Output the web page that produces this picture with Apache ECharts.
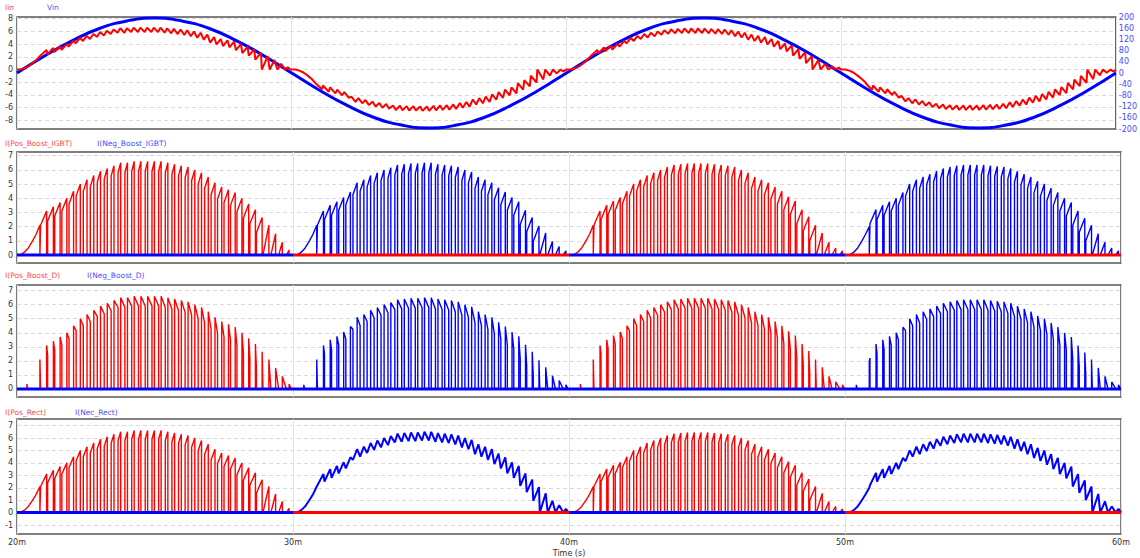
<!DOCTYPE html>
<html>
<head>
<meta charset="utf-8">
<script src="https://cdn.jsdelivr.net/npm/echarts@6/dist/echarts.min.js"></script>
<style>
  html, body { margin: 0; padding: 0; background: #fff; }
  #chart { width: 1140px; height: 558px; }
</style>
</head>
<body>
<div id="chart"></div>
<script>
// time is in ms everywhere, currents in A, voltage in V

var timeTicks = [20, 30, 40, 50, 60];
var iinTicks = [-8, -6, -4, -2, 0, 2, 4, 6, 8];
var switchTicks = [0, 1, 2, 3, 4, 5, 6, 7];
var rectTicks = [-1, 0, 1, 2, 3, 4, 5, 6, 7];

// Vin, one sample per ms (20m .. 60m)
var vinTime = [20, 21, 22, 23, 24, 25, 26, 27, 28, 29, 30, 31, 32, 33, 34, 35, 36, 37, 38, 39, 40,
               41, 42, 43, 44, 45, 46, 47, 48, 49, 50, 51, 52, 53, 54, 55, 56, 57, 58, 59, 60];
var vinVolts = [0, 61, 115, 159, 186, 196, 186, 159, 115, 61, 0, -61, -115, -159, -186, -196, -186, -159, -115, -61, 0,
                61, 115, 159, 186, 196, 186, 159, 115, 61, 0, -61, -115, -159, -186, -196, -186, -159, -115, -61, 0];

// switching: time of the first turn-off in each half cycle, and the switching period
var halfFirstDrop = [20.83, 30.86, 40.88, 50.88];
var swPeriod = 0.244;

// the slow start ramp before the first pulse (relative to first turn-off)
var rampRel = [-0.72, -0.56, -0.42, -0.28, -0.14];
var rampAmps = [0, 0.2, 0.5, 0.95, 1.45];

// peak current of every switching pulse, read per half cycle
var peaksPos1 = [2.1, 3.1, 3.4, 3.7, 4.0, 4.5, 5.0, 5.3, 5.6, 5.9, 6.1, 6.3, 6.5, 6.5, 6.6, 6.6, 6.6, 6.6, 6.6,
                 6.5, 6.4, 6.3, 6.2, 6.0, 5.8, 5.5, 5.1, 4.8, 4.6, 4.4, 4.0, 3.6, 3.2, 2.65, 2.1, 1.5, 0.9, 0.35];
var peaksNeg1 = [2.1, 3.1, 3.5, 3.75, 4.05, 4.45, 5.1, 5.3, 5.6, 5.8, 6.0, 6.15, 6.35, 6.4, 6.45, 6.45, 6.5, 6.5, 6.4,
                 6.35, 6.3, 6.2, 6.0, 5.85, 5.5, 5.3, 5.1, 4.75, 4.45, 4.05, 3.75, 3.15, 2.65, 2.05, 1.55, 0.95, 0.6, 0.3];
var peaksPos2 = [2.1, 3.1, 3.5, 3.8, 4.05, 4.5, 5.0, 5.3, 5.6, 5.8, 6.0, 6.2, 6.35, 6.4, 6.45, 6.45, 6.45, 6.45, 6.4,
                 6.35, 6.3, 6.2, 6.0, 5.8, 5.5, 5.3, 5.1, 4.8, 4.5, 4.1, 3.8, 3.2, 2.7, 2.1, 1.55, 0.9, 0.5, 0.3];
var peaksNeg2 = [2.0, 3.2, 3.5, 3.75, 4.0, 4.4, 5.0, 5.3, 5.5, 5.7, 5.9, 6.1, 6.2, 6.3, 6.35, 6.35, 6.35, 6.35, 6.3,
                 6.25, 6.2, 6.1, 5.9, 5.7, 5.5, 5.2, 5.0, 4.7, 4.4, 4.0, 3.7, 3.1, 2.6, 2.1, 1.5, 0.9, 0.5, 0.3];

// ripple (peak to valley) and IGBT on-time fraction per pulse
var ripple = [0, 1.0, 1.0, 0.95, 0.9, 0.9, 0.85, 0.8, 0.8, 0.75, 0.75, 0.72, 0.7, 0.7, 0.7, 0.7, 0.7, 0.7, 0.7,
              0.7, 0.7, 0.72, 0.75, 0.75, 0.8, 0.8, 0.85, 0.85, 0.9, 0.9, 0.95, 1.0, 1.0, 1.1, 2.1, 1.5, 0.9, 0.4];
var dutyOn = [1.0, 0.9, 0.85, 0.8, 0.74, 0.68, 0.62, 0.56, 0.52, 0.48, 0.45, 0.42, 0.4, 0.38, 0.37, 0.36, 0.36, 0.36, 0.37,
              0.38, 0.4, 0.42, 0.44, 0.47, 0.5, 0.54, 0.58, 0.62, 0.66, 0.7, 0.74, 0.78, 0.82, 0.85, 0.88, 0.7, 0.55, 0.4];

// small diode blip shortly after each half cycle starts
var blipRel = -0.47;
var blipAmps = [0.35, 0.3, 0.35, 0.3];

var halfPeaks = [peaksPos1, peaksNeg1, peaksPos2, peaksNeg2];

var RED = '#ff0000', BLUE = '#0000ff';

function valley(p, k) { return Math.max(p[k] - ripple[k], 0); }
function onStart(h, k) { return halfFirstDrop[h] + k * swPeriod - dutyOn[k] * swPeriod; }

function igbtHalf(h) {
    var p = halfPeaks[h], t0 = halfFirstDrop[h];
    var pts = [[20 + 10 * h, 0]];
    for (var i = 0; i < rampRel.length; i++) pts.push([t0 + rampRel[i], rampAmps[i]]);
    pts.push([t0, p[0]], [t0, 0]);
    for (var k = 1; k < p.length; k++) {
        var tk = t0 + k * swPeriod, on = onStart(h, k);
        pts.push([on, 0], [on, valley(p, k)], [tk, p[k]], [tk, 0]);
    }
    pts.push([30 + 10 * h, 0]);
    return pts;
}

function diodeHalf(h) {
    var p = halfPeaks[h], t0 = halfFirstDrop[h];
    var tb = t0 + blipRel;
    var pts = [[20 + 10 * h, 0], [tb, 0], [tb, blipAmps[h]], [tb + 0.03, 0]];
    for (var k = 0; k < p.length; k++) {
        var tk = t0 + k * swPeriod;
        pts.push([tk, 0], [tk, p[k]]);
        if (k + 1 < p.length) {
            var on = onStart(h, k + 1);
            pts.push([on, valley(p, k + 1)], [on, 0]);
        } else {
            pts.push([tk + 0.08, 0]);
        }
    }
    pts.push([30 + 10 * h, 0]);
    return pts;
}

function inductorHalf(h, sign) {
    var p = halfPeaks[h], t0 = halfFirstDrop[h];
    var pts = [[20 + 10 * h, 0]];
    for (var i = 0; i < rampRel.length; i++) pts.push([t0 + rampRel[i], sign * rampAmps[i]]);
    pts.push([t0, sign * p[0]]);
    for (var k = 1; k < p.length; k++) {
        pts.push([onStart(h, k), sign * valley(p, k)], [t0 + k * swPeriod, sign * p[k]]);
    }
    pts.push([t0 + (p.length - 1) * swPeriod + 0.1, 0], [30 + 10 * h, 0]);
    return pts;
}

function gapAt(t) { return [t, '-']; }

var iinData = [].concat(inductorHalf(0, 1), inductorHalf(1, -1), inductorHalf(2, 1), inductorHalf(3, -1));
var vinData = vinTime.map(function (t, i) { return [t, vinVolts[i]]; });

var posIgbt = [].concat(igbtHalf(0), [gapAt(35)], igbtHalf(2));
var negIgbt = [].concat(igbtHalf(1), [gapAt(45)], igbtHalf(3));
var posIdle = [[30, 0], [40, 0], gapAt(45), [50, 0], [60, 0]];
var negIdle = [[20, 0], [30, 0], gapAt(35), [40, 0], [50, 0]];
var fullBase = [[20, 0], [60, 0]];

var posDiode = [].concat(diodeHalf(0), [[30, 0], [40, 0]], diodeHalf(2), [[50, 0], [60, 0]]);
var negDiode = [].concat([[20, 0], [30, 0]], diodeHalf(1), [[40, 0], [50, 0]], diodeHalf(3));

var negRect = [].concat(inductorHalf(1, 1), [gapAt(45)], inductorHalf(3, 1));

var FONT = 'DejaVu Sans';
var gridTops = [17, 152, 285, 419];
var gridHeights = [112, 111, 112, 117];

var grids = gridTops.map(function (top, i) {
    return { left: 17, right: 19, top: top, height: gridHeights[i], show: true,
             borderColor: '#555', borderWidth: 1.5, backgroundColor: '#fff' };
});

var xAxes = gridTops.map(function (top, i) {
    var last = i === 3;
    return {
        type: 'value', gridIndex: i, min: 20, max: 60, interval: 10,
        axisLine: { show: false }, axisTick: { show: false },
        axisLabel: { show: last, formatter: function (v) { return v + 'm'; },
                     fontSize: 8, color: '#333', fontFamily: FONT, margin: 4,
                     customValues: timeTicks },
        splitLine: { show: true, lineStyle: { color: '#dfe5d8', width: 1 } },
        name: last ? 'Time (s)' : '', nameLocation: 'middle', nameGap: 15,
        nameTextStyle: { fontSize: 8, color: '#333', fontFamily: FONT }
    };
});

function leftAxis(gridIndex, min, max, ticks) {
    return {
        type: 'value', gridIndex: gridIndex, min: min, max: max,
        axisLine: { show: false },
        axisTick: { show: false, customValues: ticks },
        axisLabel: { customValues: ticks, fontSize: 8, color: '#333', fontFamily: FONT, margin: 4 },
        splitLine: { show: true, lineStyle: { color: '#d9d9d9', type: [4, 3], width: 1 } }
    };
}

var yAxes = [
    leftAxis(0, -9.35, 8.27, iinTicks),
    {
        type: 'value', gridIndex: 0, position: 'right', min: -200, max: 200, interval: 40,
        axisLine: { show: false }, axisTick: { show: false }, splitLine: { show: false },
        axisLabel: { fontSize: 8, color: '#4a4aff', fontFamily: FONT, margin: 3 }
    },
    leftAxis(1, -0.56, 7.26, switchTicks),
    leftAxis(2, -0.57, 7.4, switchTicks),
    leftAxis(3, -1.72, 7.53, rectTicks)
];

function line(name, data, xi, yi, color, width, z, smooth) {
    return {
        name: name, type: 'line', data: data, xAxisIndex: xi, yAxisIndex: yi,
        showSymbol: false, symbol: 'none', connectNulls: false, smooth: !!smooth,
        lineStyle: { color: color, width: width }, z: z, silent: true, animation: false
    };
}

var series = [
    line('Vin', vinData, 0, 1, BLUE, 3, 2, true),
    line('Iin', iinData, 0, 0, RED, 2, 3),

    line('I(Pos_Boost_IGBT)', posIgbt, 1, 2, RED, 1.4, 2),
    line('I(Neg_Boost_IGBT)', negIgbt, 1, 2, BLUE, 1.4, 2),
    line('pos idle', posIdle, 1, 2, RED, 3, 4),
    line('neg idle', negIdle, 1, 2, BLUE, 3, 4),

    line('I(Pos_Boost_D)', posDiode, 2, 3, RED, 1.4, 2),
    line('I(Neg_Boost_D)', negDiode, 2, 3, BLUE, 1.4, 3),
    line('diode base', fullBase, 2, 3, BLUE, 3, 4),

    line('I(Pos_Rect)', posIgbt, 3, 4, RED, 1.4, 2),
    line('I(Nec_Rect)', negRect, 3, 4, BLUE, 2, 2),
    line('pos rect idle', posIdle, 3, 4, RED, 3, 4),
    line('neg rect idle', negIdle, 3, 4, BLUE, 3, 4)
];

// legend labels, plain coloured text like the simulator draws them
var legendRows = [
    { y: 7, items: [['Iin', 5, '#ff4d4d'], ['Vin', 47, '#4d4dff']] },
    { y: 143, items: [['I(Pos_Boost_IGBT)', 5, '#ff4d4d'], ['I(Neg_Boost_IGBT)', 97, '#4d4dff']] },
    { y: 275, items: [['I(Pos_Boost_D)', 5, '#ff4d4d'], ['I(Neg_Boost_D)', 87, '#4d4dff']] },
    { y: 412, items: [['I(Pos_Rect)', 5, '#ff4d4d'], ['I(Nec_Rect)', 75, '#4d4dff']] }
];
var graphics = [];
legendRows.forEach(function (row) {
    row.items.forEach(function (it) {
        graphics.push({
            type: 'text', left: it[1], top: row.y - 4, silent: true,
            style: { text: it[0], fill: it[2], fontSize: 7.5, fontFamily: FONT }
        });
    });
});

var chart = echarts.init(document.getElementById('chart'), null, { renderer: 'svg' });
chart.setOption({
    animation: false,
    backgroundColor: '#fff',
    grid: grids,
    xAxis: xAxes,
    yAxis: yAxes,
    series: series,
    graphic: graphics
});
</script>
</body>
</html>
